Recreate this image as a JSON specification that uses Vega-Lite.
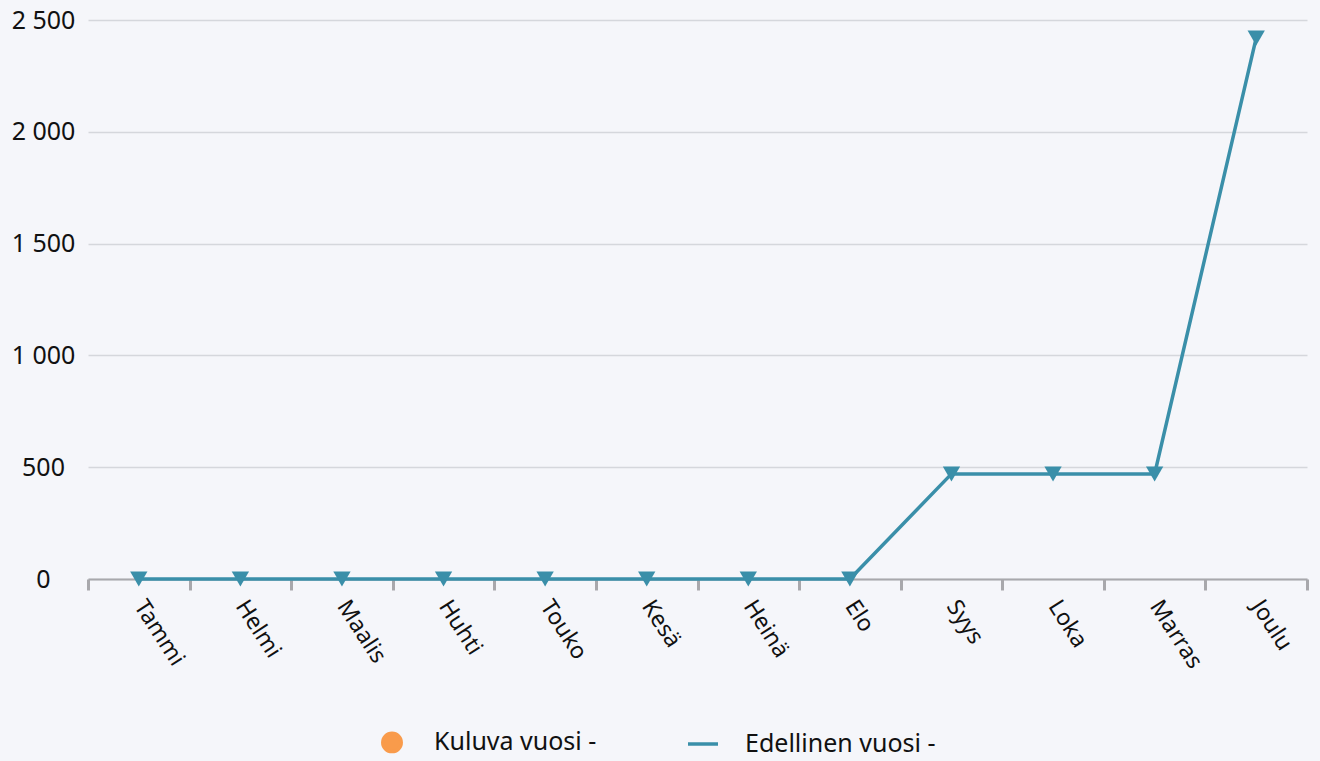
{
  "$schema": "https://vega.github.io/schema/vega-lite/v6.json",
  "width": 1219,
  "height": 559,
  "autosize": {"type": "none"},
  "padding": {"left": 88, "top": 20, "right": 13, "bottom": 182},
  "background": "#f5f6fa",
  "config": {
    "view": {"stroke": null},
    "font": "Noto Sans"
  },
  "data": {
    "values": [
      {"month": "Tammi", "value": 0, "series": "Edellinen vuosi -"},
      {"month": "Helmi", "value": 0, "series": "Edellinen vuosi -"},
      {"month": "Maalis", "value": 0, "series": "Edellinen vuosi -"},
      {"month": "Huhti", "value": 0, "series": "Edellinen vuosi -"},
      {"month": "Touko", "value": 0, "series": "Edellinen vuosi -"},
      {"month": "Kesä", "value": 0, "series": "Edellinen vuosi -"},
      {"month": "Heinä", "value": 0, "series": "Edellinen vuosi -"},
      {"month": "Elo", "value": 0, "series": "Edellinen vuosi -"},
      {"month": "Syys", "value": 470, "series": "Edellinen vuosi -"},
      {"month": "Loka", "value": 470, "series": "Edellinen vuosi -"},
      {"month": "Marras", "value": 470, "series": "Edellinen vuosi -"},
      {"month": "Joulu", "value": 2420, "series": "Edellinen vuosi -"}
    ]
  },
  "encoding": {
    "x": {
      "field": "month",
      "type": "nominal",
      "sort": null,
      "scale": {"type": "band", "paddingInner": 0, "paddingOuter": 0},
      "axis": {
        "title": null,
        "tickBand": "extent",
        "labelAngle": 57,
        "labelAlign": "left",
        "labelBaseline": "middle",
        "labelPadding": 12,
        "labelFontSize": 23,
        "labelColor": "#111111",
        "labelFont": "Noto Sans",
        "domainColor": "#a8a8ac",
        "domainWidth": 2,
        "tickColor": "#a8a8ac",
        "tickWidth": 3,
        "tickSize": 11,
        "grid": false
      }
    },
    "y": {
      "field": "value",
      "type": "quantitative",
      "scale": {"domain": [0, 2500], "nice": false},
      "axis": {
        "title": null,
        "values": [0, 500, 1000, 1500, 2000, 2500],
        "labelExpr": "replace(format(datum.value, ',d'), ',', ' ')",
        "labelFontSize": 25,
        "labelColor": "#111111",
        "labelFont": "Noto Sans",
        "labelAlign": "center",
        "labelPadding": 45,
        "ticks": false,
        "domain": false,
        "grid": true,
        "gridColor": "#d5d7dc",
        "gridWidth": 1.5
      }
    }
  },
  "layer": [
    {
      "mark": {"type": "line", "strokeWidth": 3.5},
      "encoding": {
        "color": {
          "field": "series",
          "type": "nominal",
          "scale": {"domain": ["Kuluva vuosi -", "Edellinen vuosi -"], "range": ["#f99b4b", "#3a8fa9"]},
          "legend": {
            "title": null,
            "orient": "none",
            "legendX": 287,
            "legendY": 705,
            "direction": "horizontal",
            "labelFontSize": 25,
            "labelFont": "Noto Sans",
            "labelColor": "#111111",
            "labelLimit": 400,
            "labelOffset": 25,
            "columnPadding": 84,
            "symbolSize": 900,
            "encode": {
              "symbols": {
                "update": {
                  "shape": {"signal": "datum.value === 'Kuluva vuosi -' ? 'circle' : 'stroke'"},
                  "size": {"signal": "datum.value === 'Kuluva vuosi -' ? 340 : 900"},
                  "fill": {"signal": "scale('color', datum.value)"},
                  "stroke": {"signal": "scale('color', datum.value)"},
                  "strokeWidth": {"value": 3.5},
                  "opacity": {"value": 1}
                }
              }
            }
          }
        }
      }
    },
    {
      "mark": {"type": "point", "shape": "triangle-down", "filled": true, "size": 300, "color": "#3a8fa9", "opacity": 1}
    }
  ]
}
